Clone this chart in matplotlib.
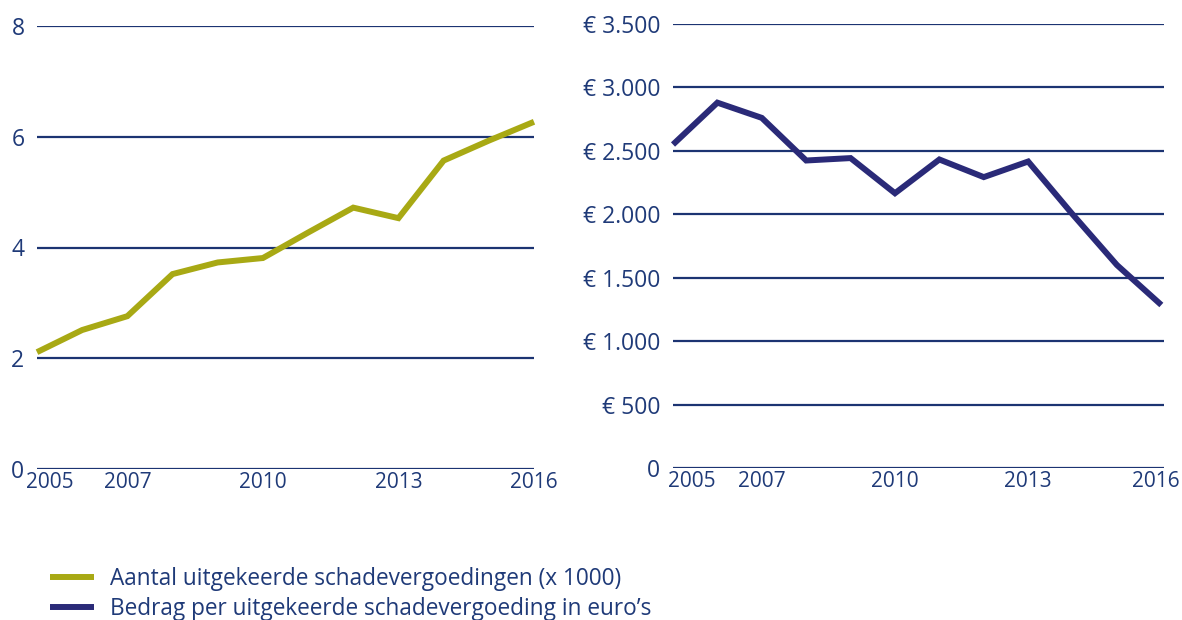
import matplotlib
matplotlib.use("Agg")
import matplotlib.pyplot as plt
import matplotlib.transforms as mtrans

years = [2005, 2006, 2007, 2008, 2009, 2010, 2011, 2012, 2013, 2014, 2015, 2016]
aantal = [2.11, 2.51, 2.76, 3.52, 3.73, 3.81, 4.27, 4.72, 4.53, 5.57, 5.93, 6.27]
bedrag = [2550, 2880, 2760, 2424, 2443, 2166, 2432, 2293, 2416, 2000, 1600, 1285]

xticks = [2005, 2007, 2010, 2013, 2016]
left_yticks = [0, 2, 4, 6, 8]
left_ylabels = ["0", "2", "4", "6", "8"]
right_yticks = [0, 500, 1000, 1500, 2000, 2500, 3000, 3500]
right_ylabels = ["0", "€ 500", "€ 1.000", "€ 1.500", "€ 2.000", "€ 2.500", "€ 3.000", "€ 3.500"]

label_aantal = "Aantal uitgekeerde schadevergoedingen (x 1000)"
label_bedrag = "Bedrag per uitgekeerde schadevergoeding in euro’s"

OLIVE = "#A8A914"
NAVY_LINE = "#2A2A78"
GRID = "#1C3472"
TEXT = "#1F3A78"

plt.rcParams['font.family'] = ['Open Sans', 'DejaVu Sans']

W, H = 1182, 620
fig = plt.figure(figsize=(W / 100, H / 100), dpi=100)

def px_axes(x0, x1, ytop, ybot):
    return fig.add_axes([x0 / W, 1 - ybot / H, (x1 - x0) / W, (ybot - ytop) / H])

ax1 = px_axes(37, 534, 26, 469)
ax2 = px_axes(673, 1164, 24, 468)

def style(ax, yticks, ylabels, ymax, xmax, pad):
    ax.set_ylim(0, ymax)
    ax.set_xlim(2005, xmax)
    ax.set_yticks(yticks)
    ax.set_yticklabels(ylabels)
    ax.set_xticks(xticks)
    ax.set_xticklabels([str(x) for x in xticks])
    for s in ax.spines.values():
        s.set_visible(False)
    ax.grid(axis='y', color=GRID, linewidth=1.6)
    ax.grid(axis='x', visible=False)
    ax.set_axisbelow(True)
    ax.tick_params(axis='both', length=0, colors=TEXT)
    ax.tick_params(axis='y', labelsize=16.5, pad=pad)
    ax.tick_params(axis='x', labelsize=15, pad=2)
    ax.set_facecolor('none')

style(ax1, left_yticks, left_ylabels, 8, 2016, 9)
style(ax2, right_yticks, right_ylabels, 3500, 2016.06, 9)

l1, = ax1.plot(years, aantal, color=OLIVE, linewidth=4.3, solid_capstyle='butt',
               solid_joinstyle='miter', label=label_aantal, clip_on=False)
l2, = ax2.plot(years, bedrag, color=NAVY_LINE, linewidth=4.3, solid_capstyle='butt',
               solid_joinstyle='miter', label=label_bedrag, clip_on=False)

def shift(lab, dx):
    lab.set_transform(lab.get_transform() + mtrans.ScaledTranslation(dx / 100, 0, fig.dpi_scale_trans))

# shift first x label right like the reference; keep last right label inside the figure
shift(ax1.get_xticklabels()[0], 13)
shift(ax2.get_xticklabels()[0], 19)
shift(ax2.get_xticklabels()[-1], -6)

leg = fig.legend(handles=[l1, l2], loc='upper left', bbox_to_anchor=(41 / W, 1 - 558 / H),
                 frameon=False, fontsize=16.3, handlelength=1.95, handletextpad=0.7,
                 labelspacing=0.28, labelcolor=TEXT, borderaxespad=0)

fig.savefig("out.png", dpi=100)
